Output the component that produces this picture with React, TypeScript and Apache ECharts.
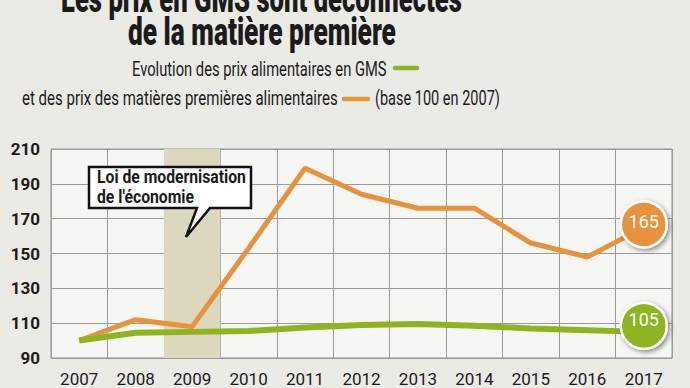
import React, { useEffect, useRef } from "react";
import * as echarts from "echarts";

const years = ["2007", "2008", "2009", "2010", "2011", "2012", "2013", "2014", "2015", "2016", "2017"];
const rawMaterials = [100, 112, 108, 153, 199, 184, 176, 176, 156, 148, 165];
const gmsPrices = [100, 104.5, 105, 105.5, 107.5, 109, 109.5, 108.5, 107, 106, 105];
const highlightYears = ["2009"];
const yMin = 90;
const yMax = 210;
const yStep = 20;

const titleLine1 = "Les prix en GMS sont déconnectés";
const titleLine2 = "de la matière première";
const subLine1 = "Evolution des prix alimentaires en GMS";
const subLine2 = "et des prix des matières premières alimentaires";
const subLine3 = "(base 100 en 2007)";
const noteLine1 = "Loi de modernisation";
const noteLine2 = "de l'économie";

const ORANGE = "#e8923c";
const GREEN = "#8db520";
const INK = "#1b1b1b";
const FONT = "Roboto, 'Open Sans', 'DejaVu Sans', sans-serif";

let measureCtx: CanvasRenderingContext2D | null = null;
function measure(text: string, size: number, weight: string) {
  if (!measureCtx) measureCtx = document.createElement("canvas").getContext("2d");
  if (!measureCtx) return text.length * size * 0.5;
  measureCtx.font = `${weight} ${size}px Roboto`;
  return measureCtx.measureText(text).width;
}

function fitText(text: string, left: number, baseline: number, width: number, size: number, weight: string, scaleOverride?: number) {
  const s = scaleOverride ?? width / measure(text, size, weight);
  return {
    type: "text",
    x: left,
    y: baseline - 0.34 * size,
    scaleX: s,
    z: 10,
    style: {
      text,
      x: 0,
      y: 0,
      fill: INK,
      fontSize: size,
      fontWeight: weight,
      fontFamily: FONT,
      align: "left",
      verticalAlign: "middle",
      textAlign: "left",
      textVerticalAlign: "middle",
    },
  };
}

export default function App() {
  const ref = useRef<HTMLDivElement>(null);

  useEffect(() => {
    if (!ref.current) return;
    const chart = echarts.init(ref.current, undefined, { renderer: "svg" });

    const band = years.map((y) => (highlightYears.includes(y) ? yMax : null));
    const last = years.length - 1;
    const withBadge = (vals: number[], color: string, offsetY: number) =>
      vals.map((v, i) =>
        i === last
          ? {
              value: v,
              symbol: "circle",
              symbolSize: 46,
              symbolOffset: [0, offsetY],
              itemStyle: {
                color,
                borderColor: "#ffffff",
                borderWidth: 2.5,
                shadowBlur: 5,
                shadowColor: "rgba(0,0,0,0.45)",
                shadowOffsetX: 2,
                shadowOffsetY: 2,
              },
              label: {
                show: true,
                position: "inside",
                offset: [0, offsetY],
                color: "#ffffff",
                fontSize: 18,
                fontFamily: FONT,
                formatter: "{c}",
              },
            }
          : v
      );

    const noteScale = 149 / measure(noteLine1, 18, "bold");

    chart.setOption({
      animation: false,
      backgroundColor: "#ebebe6",
      grid: {
        left: 51,
        right: 18,
        top: 149,
        bottom: 30,
        show: true,
        backgroundColor: "#f6f6f4",
        borderColor: "#8f8f8f",
        borderWidth: 1,
      },
      xAxis: {
        type: "category",
        data: years,
        boundaryGap: true,
        axisLine: { show: false },
        axisTick: { show: false },
        splitLine: { show: true, lineStyle: { color: "#9b9b9b", width: 1 } },
        axisLabel: { color: INK, fontSize: 17, fontFamily: FONT, margin: 12 },
      },
      yAxis: {
        type: "value",
        min: yMin,
        max: yMax,
        interval: yStep,
        axisLine: { show: false },
        axisTick: { show: false },
        splitLine: { show: true, lineStyle: { color: "#9b9b9b", width: 1 } },
        axisLabel: { color: INK, fontSize: 17, fontWeight: "bold", fontFamily: FONT, margin: 11 },
      },
      series: [
        {
          name: "Loi de modernisation de l'économie",
          type: "bar",
          data: band,
          barWidth: "100%",
          barCategoryGap: "0%",
          itemStyle: { color: "#dcd8be" },
          silent: true,
          z: 1,
        },
        {
          name: "Prix des matières premières alimentaires",
          type: "line",
          data: withBadge(rawMaterials, ORANGE, -3),
          symbol: "none",
          showSymbol: true,
          lineStyle: { color: ORANGE, width: 5 },
          itemStyle: { color: ORANGE },
          z: 3,
        },
        {
          name: "Prix alimentaires en GMS",
          type: "line",
          data: withBadge(gmsPrices, GREEN, -6),
          symbol: "none",
          showSymbol: true,
          lineStyle: { color: GREEN, width: 6 },
          itemStyle: { color: GREEN },
          z: 4,
        },
      ],
      graphic: [
        fitText(titleLine1, 61, 12, 401, 38, "900"),
        fitText(titleLine2, 128, 45, 268, 38, "900"),
        fitText(subLine1, 132, 76, 255, 20, "normal"),
        fitText(subLine2, 22, 105, 316, 20, "normal"),
        fitText(subLine3, 375, 105, 125, 20, "normal"),
        {
          type: "line",
          z: 10,
          shape: { x1: 395, y1: 68, x2: 417, y2: 68 },
          style: { stroke: GREEN, lineWidth: 4.5, lineCap: "round" },
        },
        {
          type: "line",
          z: 10,
          shape: { x1: 344, y1: 99, x2: 368, y2: 99 },
          style: { stroke: ORANGE, lineWidth: 4.5, lineCap: "round" },
        },
        {
          type: "polygon",
          z: 20,
          shape: {
            points: [
              [89, 167],
              [251, 167],
              [251, 208],
              [210, 208],
              [186, 237],
              [197, 208],
              [89, 208],
            ],
          },
          style: { fill: "#ffffff", stroke: "#111111", lineWidth: 2.5, lineJoin: "miter" },
        },
        { ...fitText(noteLine1, 97, 183, 149, 18, "bold", noteScale), z: 21 },
        { ...fitText(noteLine2, 97, 203, 0, 18, "bold", noteScale), z: 21 },
      ],
    });

    return () => chart.dispose();
  }, []);

  return (
    <div
      ref={ref}
      style={{ position: "fixed", left: 0, top: 0, width: 690, height: 388 }}
    />
  );
}
